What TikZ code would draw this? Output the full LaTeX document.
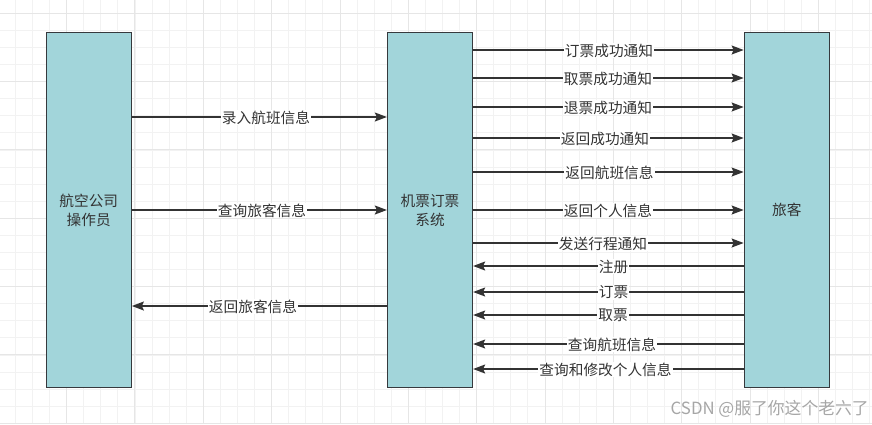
\documentclass[tikz,border=0pt]{standalone}
\usepackage{fontspec}
\setmainfont{Noto Sans CJK SC}
\usetikzlibrary{arrows.meta}
\definecolor{boxfill}{HTML}{A2D5DA}
\definecolor{boxline}{HTML}{36393D}
\definecolor{txt}{HTML}{333333}
\definecolor{gridminor}{HTML}{F2F2F2}
\definecolor{gridmajor}{HTML}{E6E6E6}
\definecolor{wm}{HTML}{A6A6A6}
\tikzset{
  box/.style={draw=boxline, fill=boxfill, line width=1.3pt, minimum width=85pt,
    minimum height=355pt, inner sep=0pt, align=center, text=txt,
    font=\fontsize{14.67}{19}\selectfont},
  arr/.style={draw=txt, line width=1.2pt, -{Stealth[length=12pt,width=9pt,inset=2pt]}},
  lbl/.style={fill=white, inner xsep=1pt, inner ysep=0.5pt, text=txt,
    font=\fontsize{14.67}{17}\selectfont},
  gminor/.style={draw=gridminor, line width=0.9pt},
  gmajor/.style={draw=gridmajor, line width=1pt},
}
\begin{document}
\begin{tikzpicture}[x=1pt, y=-1pt]
\useasboundingbox (0,0) rectangle (872,424);
\fill[white] (0,0) rectangle (872,424);
% grid
\foreach \k in {1,...,51} {
  \draw[gminor] ({-1.67+17.083*\k},0) -- ({-1.67+17.083*\k},424);
}
\foreach \k in {0,...,24} {
  \draw[gminor] (0,{13.3+17.083*\k}) -- (872,{13.3+17.083*\k});
}
\foreach \k in {1,...,12} {
  \draw[gmajor] ({-1.67+68.333*\k},0) -- ({-1.67+68.333*\k},424);
}
\foreach \k in {0,...,6} {
  \draw[gmajor] (0,{13.3+68.333*\k}) -- (872,{13.3+68.333*\k});
}
% boxes
\node[box] (op) at (88.75,210.25) {航空公司\\操作员};
\node[box] (sys) at (430,210.25) {机票订票\\系统};
\node[box] (pas) at (786.75,210.25) {旅客};
% left connectors
\draw[arr] (op.east |- 0,117) -- (sys.west |- 0,117);
\draw[arr] (op.east |- 0,210) -- (sys.west |- 0,210);
\draw[arr] (sys.west |- 0,306) -- (op.east |- 0,306);
\node[lbl] (l1) at (266,117.5) {录入航班信息};
\node[lbl] (l2) at (262,210.5) {查询旅客信息};
\node[lbl] (l3) at (253,306.5) {返回旅客信息};
% right connectors: system -> passenger
\foreach \y in {50,78,107,138,172,210,243} {
  \draw[arr] (sys.east |- 0,\y) -- (pas.west |- 0,\y);
}
% passenger -> system
\foreach \y in {266,292,315,344,369} {
  \draw[arr] (pas.west |- 0,\y) -- (sys.east |- 0,\y);
}
\node[lbl] (r1) at (609,50.5) {订票成功通知};
\node[lbl] (r2) at (608,78.5) {取票成功通知};
\node[lbl] (r3) at (608,107.5) {退票成功通知};
\node[lbl] (r4) at (605,138.5) {返回成功通知};
\node[lbl] (r5) at (609.5,172.5) {返回航班信息};
\node[lbl] (r6) at (608,210.5) {返回个人信息};
\node[lbl] (r7) at (603,243.5) {发送行程通知};
\node[lbl] (r8) at (613.5,266.5) {注册};
\node[lbl] (r9) at (613.5,292.5) {订票};
\node[lbl] (r10) at (613,315.5) {取票};
\node[lbl] (r11) at (612,344.5) {查询航班信息};
\node[lbl] (r12) at (605.5,369.5) {查询和修改个人信息};
% watermark
\node[text=wm, font=\fontsize{16.8}{19}\selectfont, anchor=west, inner sep=0pt] (wmk) at (670.5,409) {CSDN @服了你这个老六了};
\end{tikzpicture}
\end{document}
